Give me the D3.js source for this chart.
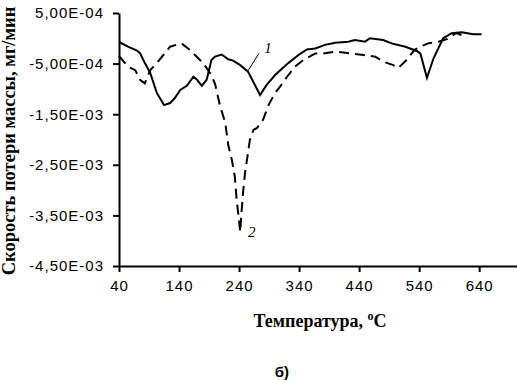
<!DOCTYPE html>
<html>
<head>
<meta charset="utf-8">
<script src="https://cdn.jsdelivr.net/npm/d3@7"></script>
<style>
  body { margin: 0; background: #fff; }
  svg { display: block; }
</style>
</head>
<body>
<svg id="chart" width="517" height="380"></svg>
<script>
// temperature, C  /  mass loss rate, mg/min
const tempSolid = [40, 55, 70, 75, 83, 92, 103, 115, 125, 133, 142, 153, 164, 170, 178, 186, 194, 200, 211, 222,
  230, 242, 255, 275, 286, 300, 322, 339, 353, 367, 383, 400, 422, 433, 450, 458, 480, 494, 517, 536, 542, 553,
  564, 580, 594, 611, 630, 644];
const rateSolid = [-0.73e-4, -1.66e-4, -2.45e-4, -2.91e-4, -4.88e-4, -6.86e-4, -10.8e-4, -13.2e-4, -12.8e-4,
  -11.8e-4, -10.2e-4, -9.4e-4, -7.6e-4, -8.2e-4, -9.4e-4, -8.2e-4, -4.3e-4, -3.6e-4, -3.2e-4, -4.15e-4,
  -4.4e-4, -5.3e-4, -6.6e-4, -11.2e-4, -9.2e-4, -7.25e-4, -4.9e-4, -3.3e-4, -2.2e-4, -2.0e-4, -1.3e-4,
  -0.87e-4, -0.67e-4, -0.34e-4, -0.67e-4, 0.0, -0.34e-4, -1.0e-4, -1.66e-4, -2.5e-4, -3.0e-4, -7.8e-4,
  -3.95e-4, 0.0, 1.0e-4, 1.2e-4, 0.8e-4, 0.8e-4];

const tempDashed = [40, 55, 67, 75, 83, 92, 103, 114, 125, 144, 158, 172, 180, 192, 200, 208, 217, 222, 228,
  233, 236, 239, 242, 244, 247, 250, 255, 258, 264, 270, 280, 289, 300, 308, 320, 333, 347, 367, 380, 400,
  417, 433, 447, 467, 480, 497, 505, 519, 533, 545, 555, 572, 586, 602, 620];
const rateDashed = [-3.5e-4, -5.6e-4, -6.3e-4, -8.2e-4, -8.9e-4, -6.3e-4, -4.9e-4, -3.3e-4, -1.66e-4, -1.0e-4,
  -2.3e-4, -3.95e-4, -4.9e-4, -6.9e-4, -9.0e-4, -13.2e-4, -16.7e-4, -21.1e-4, -24.0e-4, -27.4e-4, -32.0e-4,
  -34.9e-4, -38.3e-4, -34.5e-4, -30.0e-4, -26.6e-4, -22.5e-4, -20.1e-4, -18.1e-4, -17.7e-4, -16.1e-4,
  -13.2e-4, -10.8e-4, -9.6e-4, -7.6e-4, -5.6e-4, -4.3e-4, -3.0e-4, -3.0e-4, -2.65e-4, -2.85e-4, -3.1e-4,
  -3.3e-4, -3.65e-4, -4.6e-4, -5.3e-4, -5.9e-4, -4.3e-4, -2.2e-4, -1.5e-4, -1.0e-4, -0.67e-4, -0.16e-4,
  1.05e-4, 0.16e-4];

const xTicks = [40, 140, 240, 340, 440, 540, 640];
const yTicks = [5e-4, -5e-4, -1.5e-3, -2.5e-3, -3.5e-3, -4.5e-3];
const yTickLabels = ["5,00E-04", "-5,00E-04", "-1,50E-03", "-2,50E-03", "-3,50E-03", "-4,50E-03"];

const svg = d3.select("#chart");

const x = d3.scaleLinear().domain([40, 703]).range([119, 517]);
const y = d3.scaleLinear().domain([-4.5e-3, 5e-4]).range([266, 13]);

// axes
const xAxis = svg.append("g")
  .attr("transform", "translate(0,266)")
  .call(d3.axisBottom(x).tickValues(xTicks).tickSize(6).tickPadding(8).tickSizeOuter(0));
const yAxis = svg.append("g")
  .attr("transform", "translate(119,0)")
  .call(d3.axisLeft(y).tickValues(yTicks).tickSize(6).tickPadding(9).tickSizeOuter(0)
    .tickFormat((d, i) => yTickLabels[i]));

[xAxis, yAxis].forEach(g => {
  g.select(".domain").attr("stroke", "#000").attr("stroke-width", 2);
  g.selectAll(".tick line").attr("stroke", "#000").attr("stroke-width", 2);
  g.selectAll(".tick text")
    .attr("fill", "#000")
    .style("font-family", "Liberation Sans, Arial, sans-serif")
    .style("font-size", "15px")
    .style("letter-spacing", "1px");
});

// curves
const line = d3.line().x(d => x(d[0])).y(d => y(d[1]));

svg.append("path")
  .datum(d3.zip(tempDashed, rateDashed))
  .attr("d", line)
  .attr("fill", "none")
  .attr("stroke", "#000")
  .attr("stroke-width", 2)
  .attr("stroke-dasharray", "10,6");

svg.append("path")
  .datum(d3.zip(tempSolid, rateSolid))
  .attr("d", line)
  .attr("fill", "none")
  .attr("stroke", "#000")
  .attr("stroke-width", 2);

// curve labels
svg.append("line")
  .attr("x1", x(255)).attr("y1", y(-6.4e-4))
  .attr("x2", x(273)).attr("y2", y(-3.0e-4))
  .attr("stroke", "#000").attr("stroke-width", 1);
svg.append("text")
  .attr("x", 268).attr("y", 53)
  .attr("text-anchor", "middle")
  .style("font-family", "Liberation Serif, Times New Roman, serif")
  .style("font-style", "italic")
  .style("font-size", "15px")
  .text("1");
svg.append("text")
  .attr("x", 248).attr("y", 237)
  .style("font-family", "Liberation Serif, Times New Roman, serif")
  .style("font-style", "italic")
  .style("font-size", "15px")
  .text("2");

// titles
const xTitle = svg.append("text")
  .attr("x", 320).attr("y", 327)
  .attr("text-anchor", "middle")
  .style("font-family", "Liberation Serif, Times New Roman, serif")
  .style("font-weight", "bold")
  .style("font-size", "18px");
xTitle.append("tspan").text("Температура, ");
xTitle.append("tspan").attr("dy", -7).style("font-size", "12px").text("o");
xTitle.append("tspan").attr("dy", 7).text("C");

svg.append("text")
  .attr("transform", "translate(15,141) rotate(-90)")
  .attr("text-anchor", "middle")
  .style("font-family", "Liberation Serif, Times New Roman, serif")
  .style("font-weight", "bold")
  .style("font-size", "18.5px")
  .text("Скорость потери массы, мг/мин");

svg.append("text")
  .attr("x", 282).attr("y", 377)
  .attr("text-anchor", "middle")
  .style("font-family", "Liberation Sans, Arial, sans-serif")
  .style("font-weight", "bold")
  .style("font-size", "15px")
  .text("б)");
</script>
</body>
</html>
